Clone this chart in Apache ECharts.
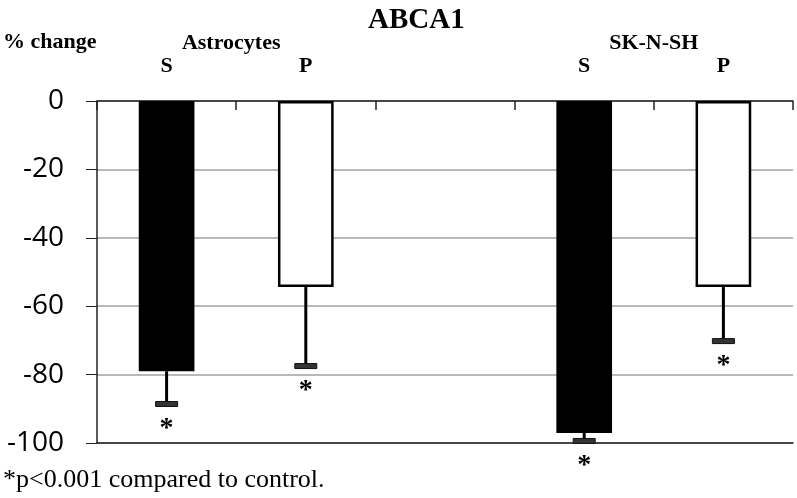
<!DOCTYPE html>
<html>
<head>
<meta charset="utf-8">
<script src="https://cdn.jsdelivr.net/npm/echarts@6/dist/echarts.min.js"></script>
<style>
  html, body { margin: 0; padding: 0; background: #fff; }
  #container { width: 797px; height: 498px; }
</style>
</head>
<body>
<div id="container"></div>
<script>
// data
var categories = ["S", "P", "", "S", "P"];
var groupNames = ["Astrocytes", "SK-N-SH"];
var groupSpan = [[0, 1], [3, 4]];
var meanChange = [-79, -54.4, null, -97.1, -54.4];
var errorLow = [-88.6, -77.5, null, -99.4, -70.2];
var barFill = ["#000", "#fff", "#fff", "#000", "#fff"];

var serif = "'Liberation Serif', 'DejaVu Serif', serif";

var dom = document.getElementById("container");
var myChart = echarts.init(dom);

var barData = meanChange.map(function(v, i) {
  return {
    value: v,
    itemStyle: { color: barFill[i], borderColor: "#000", borderWidth: 2.5 }
  };
});

var errData = [];
meanChange.forEach(function(v, i) {
  if (v !== null) errData.push([i, errorLow[i], v]);
});

var option = {
  animation: false,
  title: {
    text: "ABCA1",
    left: 363,
    top: 1,
    textStyle: { fontFamily: serif, fontWeight: "bold", fontSize: 29, color: "#000" }
  },
  grid: { left: 97, right: 4, top: 101, bottom: 55 },
  xAxis: [
    {
      type: "category",
      data: categories,
      position: "top",
      axisLine: { onZero: true, lineStyle: { color: "#222", width: 1.5 } },
      axisTick: { show: true, inside: true, length: 9, lineStyle: { color: "#222", width: 1.5 } },
      axisLabel: { margin: 24, fontFamily: serif, fontWeight: "bold", fontSize: 22, color: "#000" },
      splitLine: { show: false }
    },
    {
      type: "category",
      data: categories,
      position: "bottom",
      axisLine: { onZero: false, lineStyle: { color: "#222", width: 1.5 } },
      axisTick: { show: false },
      axisLabel: { show: false }
    }
  ],
  yAxis: {
    type: "value",
    min: -100,
    max: 0,
    interval: 20,
    axisLine: { show: true, lineStyle: { color: "#222", width: 1.5 } },
    axisTick: { show: true, length: 11, lineStyle: { color: "#222" } },
    axisLabel: { margin: 33, fontFamily: "'Open Sans', 'Noto Sans', sans-serif", fontSize: 28, color: "#000" },
    splitLine: { lineStyle: { color: "#a0a0a0", width: 1.5 } }
  },
  series: [
    {
      type: "bar",
      data: barData,
      barWidth: "40%"
    },
    {
      type: "custom",
      data: errData,
      z: 5,
      renderItem: function(params, api) {
        var x = api.value(0);
        var bot = api.coord([x, api.value(1)]);
        var top = api.coord([x, api.value(2)]);
        return {
          type: "group",
          children: [
            { type: "line", shape: { x1: top[0], y1: top[1], x2: bot[0], y2: bot[1] },
              style: { stroke: "#000", lineWidth: 3 } },
            { type: "rect", shape: { x: bot[0] - 11, y: bot[1] - 2.5, width: 22, height: 5 },
              style: { fill: "#333", stroke: "#111", lineWidth: 1 } },
            { type: "text", x: bot[0], y: bot[1] + 25,
              style: { text: "*", fontFamily: serif, fontWeight: "bold", fontSize: 28, fill: "#000",
                       align: "center", verticalAlign: "middle" } }
          ]
        };
      }
    }
  ],
  graphic: [
    { type: "text", left: 3, top: 31,
      style: { text: "% change", fontFamily: serif, fontWeight: "bold", fontSize: 22, fill: "#000" } },
    { type: "text", left: 3, top: 467,
      style: { text: "*p<0.001 compared to control.", fontFamily: serif, fontSize: 26, fill: "#000" } }
  ]
};

myChart.setOption(option);

// group labels centred over their two bars
var groupGraphics = groupNames.map(function(name, g) {
  var a = myChart.convertToPixel({ xAxisIndex: 0 }, groupSpan[g][0]);
  var b = myChart.convertToPixel({ xAxisIndex: 0 }, groupSpan[g][1]);
  return {
    type: "text",
    x: (a + b) / 2 - (g === 0 ? 5 : 0),
    y: 43,
    style: { text: name, fontFamily: serif, fontWeight: "bold", fontSize: 22, fill: "#000",
             align: "center", verticalAlign: "middle" }
  };
});
myChart.setOption({ graphic: option.graphic.concat(groupGraphics) });
</script>
</body>
</html>
